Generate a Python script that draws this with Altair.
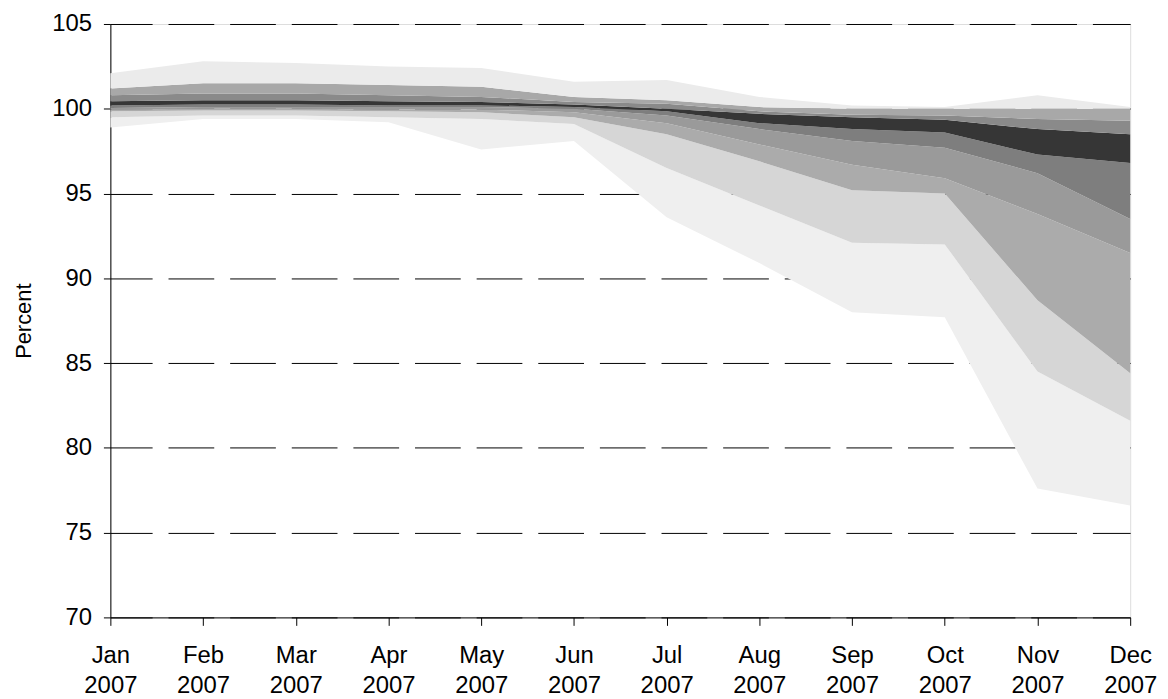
import altair as alt
import pandas as pd

months = ["Jan 2007", "Feb 2007", "Mar 2007", "Apr 2007", "May 2007", "Jun 2007",
          "Jul 2007", "Aug 2007", "Sep 2007", "Oct 2007", "Nov 2007", "Dec 2007"]

# Fan-chart boundary lines, from lowest to highest (percent)
L0 = [98.9, 99.4, 99.4, 99.2, 97.6, 98.1, 93.6, 90.9, 88.0, 87.7, 77.6, 76.6]
L1 = [99.5, 99.6, 99.6, 99.5, 99.4, 99.1, 96.5, 94.3, 92.1, 92.0, 84.5, 81.6]
L2 = [99.85, 99.9, 99.9, 99.85, 99.8, 99.5, 98.5, 96.9, 95.2, 95.0, 88.7, 84.4]
L3 = [99.95, 100.0, 100.0, 99.95, 99.95, 99.8, 99.15, 97.9, 96.7, 95.9, 93.8, 91.5]
L4 = [100.05, 100.1, 100.1, 100.1, 100.1, 100.0, 99.6, 98.8, 98.1, 97.7, 96.2, 93.5]
L5 = [100.2, 100.25, 100.25, 100.2, 100.2, 100.1, 99.85, 99.15, 98.8, 98.6, 97.3, 96.8]
L6 = [100.45, 100.5, 100.5, 100.45, 100.4, 100.25, 100.0, 99.7, 99.5, 99.35, 98.8, 98.5]
L7 = [100.8, 100.9, 100.9, 100.8, 100.7, 100.4, 100.3, 99.85, 99.65, 99.6, 99.4, 99.3]
L8 = [101.2, 101.5, 101.5, 101.4, 101.3, 100.7, 100.5, 100.1, 100.0, 100.0, 100.0, 100.0]
L9 = [102.1, 102.8, 102.7, 102.5, 102.4, 101.6, 101.7, 100.7, 100.2, 100.1, 100.8, 100.1]

lines = [L0, L1, L2, L3, L4, L5, L6, L7, L8, L9]
band_names = ["b0", "b1", "b2", "b3", "b4", "b5", "b6", "b7", "b8"]
band_colors = ["#efefef", "#d6d6d6", "#ababab", "#9a9a9a", "#7e7e7e",
               "#363636", "#8a8a8a", "#a8a8a8", "#ebebeb"]

rows = []
for i, name in enumerate(band_names):
    for j, m in enumerate(months):
        rows.append({"month": m, "band": name, "lo": lines[i][j], "hi": lines[i + 1][j]})
df = pd.DataFrame(rows)

FONT = "Liberation Sans"

x_enc = alt.X(
    "month:O",
    sort=months,
    scale=alt.Scale(type="point", padding=0),
    axis=alt.Axis(
        title=None,
        labelAngle=0,
        labelExpr="split(datum.label, ' ')",
        labelFontSize=24,
        labelFont=FONT,
        labelColor="#000000",
        labelLineHeight=31,
        labelPadding=18,
        tickSize=8,
        tickColor="#000000",
        domainColor="#000000",
        grid=False,
    ),
)

y_enc = alt.Y(
    "lo:Q",
    scale=alt.Scale(domain=[70, 105], nice=False, zero=False),
    axis=alt.Axis(
        title="Percent",
        titleFont=FONT,
        titleFontSize=22,
        titleFontWeight="normal",
        titleColor="#000000",
        titlePadding=16,
        values=[70, 75, 80, 85, 90, 95, 100, 105],
        labelFontSize=24,
        labelFont=FONT,
        labelColor="#000000",
        labelPadding=12,
        tickSize=7,
        tickColor="#000000",
        domainColor="#000000",
        grid=True,
        gridColor="#000000",
        gridDash=[46, 16],
        gridDashOffset=4,
        gridWidth=1,
    ),
)

chart = (
    alt.Chart(df)
    .mark_area(interpolate="linear", opacity=1)
    .encode(
        x=x_enc,
        y=y_enc,
        y2="hi:Q",
        color=alt.Color("band:N", scale=alt.Scale(domain=band_names, range=band_colors), legend=None),
    )
    .properties(
        width=1026,
        height=597,
        autosize=alt.AutoSizeParams(type="none"),
        padding={"left": 103, "top": 14, "right": 30, "bottom": 80},
    )
    .configure_view(strokeWidth=0, stroke="transparent")
    .configure(background="#ffffff")
)

chart.save("out.html", embed_options={"renderer": "svg", "actions": False})
